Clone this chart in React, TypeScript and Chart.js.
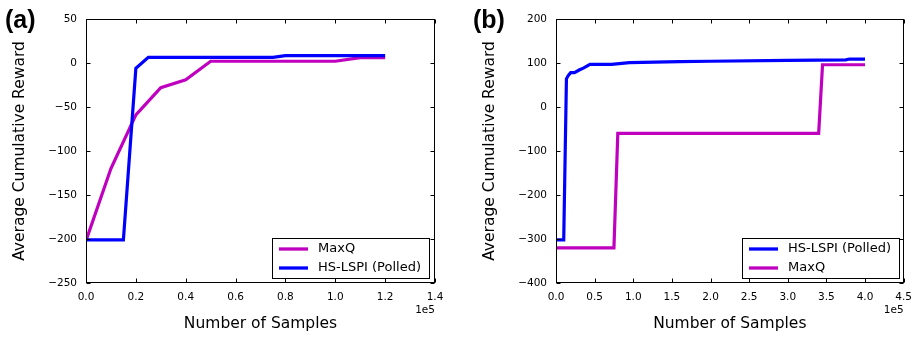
import React, { useEffect, useRef } from 'react';
import { Chart, registerables } from 'chart.js';

Chart.register(...registerables);
Chart.defaults.font.family = '"DejaVu Sans", sans-serif';

// ---------- Data ----------
// Panel (a)
const A_MAXQ_X = [0, 10000, 20000, 30000, 40000, 50000, 100000, 110000, 120000];
const A_MAXQ_Y = [-202, -120, -59, -28, -19, 2, 2, 6, 6];
const A_HS_X = [0, 15000, 20000, 25000, 75000, 80000, 120000];
const A_HS_Y = [-201, -201, -6, 6.5, 6.5, 8.3, 8.3];
const A_X_TICKS = [0, 20000, 40000, 60000, 80000, 100000, 120000, 140000];
const A_Y_TICKS = [-250, -200, -150, -100, -50, 0, 50];

// Panel (b)
const B_HS_X = [0, 10000, 13500, 16000, 19000, 24000, 30000, 36000, 44000, 72000, 95000, 160000, 200000, 300000, 375000, 380000, 400000];
const B_HS_Y = [-302, -302, 64, 72, 78, 78, 84, 89, 97, 97, 101, 103, 104, 106, 107, 109, 109];
const B_MAXQ_X = [0, 75000, 80000, 340000, 345000, 400000];
const B_MAXQ_Y = [-320, -320, -60, -60, 96, 96];
const B_X_TICKS = [0, 50000, 100000, 150000, 200000, 250000, 300000, 350000, 400000, 450000];
const B_Y_TICKS = [-400, -300, -200, -100, 0, 100, 200];

const LABEL_MAXQ = 'MaxQ';
const LABEL_HS = 'HS-LSPI (Polled)';
const X_TITLE = 'Number of Samples';
const Y_TITLE = 'Average Cumulative Reward';
const COLOR_MAXQ = '#BF00BF';
const COLOR_HS = '#0000FF';

type Series = { label: string; color: string; xs: number[]; ys: number[] };

type PanelProps = {
  tag: string;
  tagX: number;
  series: Series[]; // drawing order: first is on top
  legendOrder: string[];
  xTicks: number[];
  yTicks: number[];
  yAxisWidth: number;
  rightPad: number;
  yTitlePad: number;
  legendX: number;
};

const zip = (xs: number[], ys: number[]) => xs.map((x, i) => ({ x, y: ys[i] }));

function makeDecor(p: PanelProps, colors: Record<string, string>) {
  return {
    id: 'decor',
    afterDatasetsDraw(chart: any) {
      const { ctx, chartArea: a, scales } = chart;
      const L = Math.round(a.left) + 0.5;
      const R = Math.round(a.right) - 0.5;
      const T = Math.round(a.top) + 0.5;
      const B = Math.round(a.bottom) - 0.5;
      ctx.save();
      ctx.strokeStyle = '#000';
      ctx.lineWidth = 1;
      ctx.strokeRect(L, T, R - L, B - T);
      const tl = 4;
      ctx.beginPath();
      for (const v of p.xTicks) {
        const x = Math.round(scales.x.getPixelForValue(v)) + 0.5;
        ctx.moveTo(x, B); ctx.lineTo(x, B - tl);
        ctx.moveTo(x, T); ctx.lineTo(x, T + tl);
      }
      for (const v of p.yTicks) {
        const y = Math.round(scales.y.getPixelForValue(v)) + 0.5;
        ctx.moveTo(L, y); ctx.lineTo(L + tl, y);
        ctx.moveTo(R, y); ctx.lineTo(R - tl, y);
      }
      ctx.stroke();

      // offset label
      ctx.fillStyle = '#000';
      ctx.font = '10.5px "DejaVu Sans"';
      ctx.textAlign = 'right';
      ctx.textBaseline = 'middle';
      ctx.fillText('1e5', a.right, 310);

      // panel tag
      ctx.font = 'bold 25px "Liberation Sans", Arial, sans-serif';
      ctx.textAlign = 'left';
      ctx.textBaseline = 'alphabetic';
      ctx.fillText(p.tag, p.tagX, 28);

      // legend
      const lx = p.legendX, ly = 238, lw = 157, lh = 40;
      ctx.fillStyle = '#fff';
      ctx.fillRect(lx, ly, lw, lh);
      ctx.strokeStyle = '#000';
      ctx.lineWidth = 1;
      ctx.strokeRect(lx + 0.5, ly + 0.5, lw, lh);
      ctx.font = '13px "DejaVu Sans"';
      ctx.textBaseline = 'middle';
      p.legendOrder.forEach((lab, i) => {
        const y = 249 + i * 19;
        ctx.strokeStyle = colors[lab];
        ctx.lineWidth = 3.3;
        ctx.beginPath();
        ctx.moveTo(lx + 7, y);
        ctx.lineTo(lx + 36, y);
        ctx.stroke();
        ctx.fillStyle = '#000';
        ctx.fillText(lab, lx + 46, y);
      });
      ctx.restore();
    },
  };
}

function Panel(p: PanelProps) {
  const ref = useRef<HTMLCanvasElement>(null);
  useEffect(() => {
    const colors: Record<string, string> = {};
    p.series.forEach((s) => (colors[s.label] = s.color));
    const xMin = p.xTicks[0];
    const xMax = p.xTicks[p.xTicks.length - 1];
    const xStep = p.xTicks[1] - p.xTicks[0];
    const yMin = p.yTicks[0];
    const yMax = p.yTicks[p.yTicks.length - 1];
    const yStep = p.yTicks[1] - p.yTicks[0];
    const chart = new Chart(ref.current as HTMLCanvasElement, {
      type: 'line',
      data: {
        datasets: p.series.map((s) => ({
          label: s.label,
          data: zip(s.xs, s.ys),
          borderColor: s.color,
          backgroundColor: s.color,
          borderWidth: 3.2,
          pointRadius: 0,
          tension: 0,
          fill: false,
        })),
      },
      options: {
        animation: false,
        responsive: false,
        layout: { padding: { left: 0, right: p.rightPad, top: 19, bottom: 0 } },
        plugins: { legend: { display: false }, tooltip: { enabled: false } },
        scales: {
          x: {
            type: 'linear',
            min: xMin,
            max: xMax,
            grid: { display: false, drawTicks: false },
            border: { display: false },
            ticks: {
              stepSize: xStep,
              autoSkip: false,
              maxRotation: 0,
              padding: 8,
              color: '#000',
              font: { size: 10.5 },
              callback: (v: any) => (Number(v) / 1e5).toFixed(1),
            },
            title: {
              display: true,
              text: X_TITLE,
              color: '#000',
              font: { size: 15.5 },
              padding: { top: 0, bottom: 4 },
            },
            afterFit: (s: any) => {
              s.height = 54;
            },
          },
          y: {
            type: 'linear',
            min: yMin,
            max: yMax,
            grid: { display: false, drawTicks: false },
            border: { display: false },
            ticks: {
              stepSize: yStep,
              padding: 9,
              color: '#000',
              font: { size: 10.5 },
              callback: (v: any) => (Number(v) < 0 ? '\u2212' + Math.abs(Number(v)) : String(v)),
            },
            title: {
              display: true,
              text: Y_TITLE,
              color: '#000',
              font: { size: 15.5 },
              padding: { top: p.yTitlePad, bottom: 0 },
            },
            afterFit: (s: any) => {
              s.width = p.yAxisWidth;
            },
          },
        },
      },
      plugins: [makeDecor(p, colors)],
    } as any);
    return () => chart.destroy();
  }, []);
  return <canvas ref={ref} width={460} height={337} style={{ display: 'block', width: 460, height: 337 }} />;
}

export default function App() {
  return (
    <div style={{ position: 'absolute', left: 0, top: 0, width: 920, height: 337, display: 'flex', background: '#fff' }}>
      <Panel
        tag="(a)"
        tagX={5}
        series={[
          { label: LABEL_HS, color: COLOR_HS, xs: A_HS_X, ys: A_HS_Y },
          { label: LABEL_MAXQ, color: COLOR_MAXQ, xs: A_MAXQ_X, ys: A_MAXQ_Y },
        ]}
        legendOrder={[LABEL_MAXQ, LABEL_HS]}
        xTicks={A_X_TICKS}
        yTicks={A_Y_TICKS}
        yAxisWidth={86}
        rightPad={25}
        yTitlePad={11}
        legendX={272}
      />
      <Panel
        tag="(b)"
        tagX={13}
        series={[
          { label: LABEL_HS, color: COLOR_HS, xs: B_HS_X, ys: B_HS_Y },
          { label: LABEL_MAXQ, color: COLOR_MAXQ, xs: B_MAXQ_X, ys: B_MAXQ_Y },
        ]}
        legendOrder={[LABEL_HS, LABEL_MAXQ]}
        xTicks={B_X_TICKS}
        yTicks={B_Y_TICKS}
        yAxisWidth={96}
        rightPad={15}
        yTitlePad={21}
        legendX={282}
      />
    </div>
  );
}
